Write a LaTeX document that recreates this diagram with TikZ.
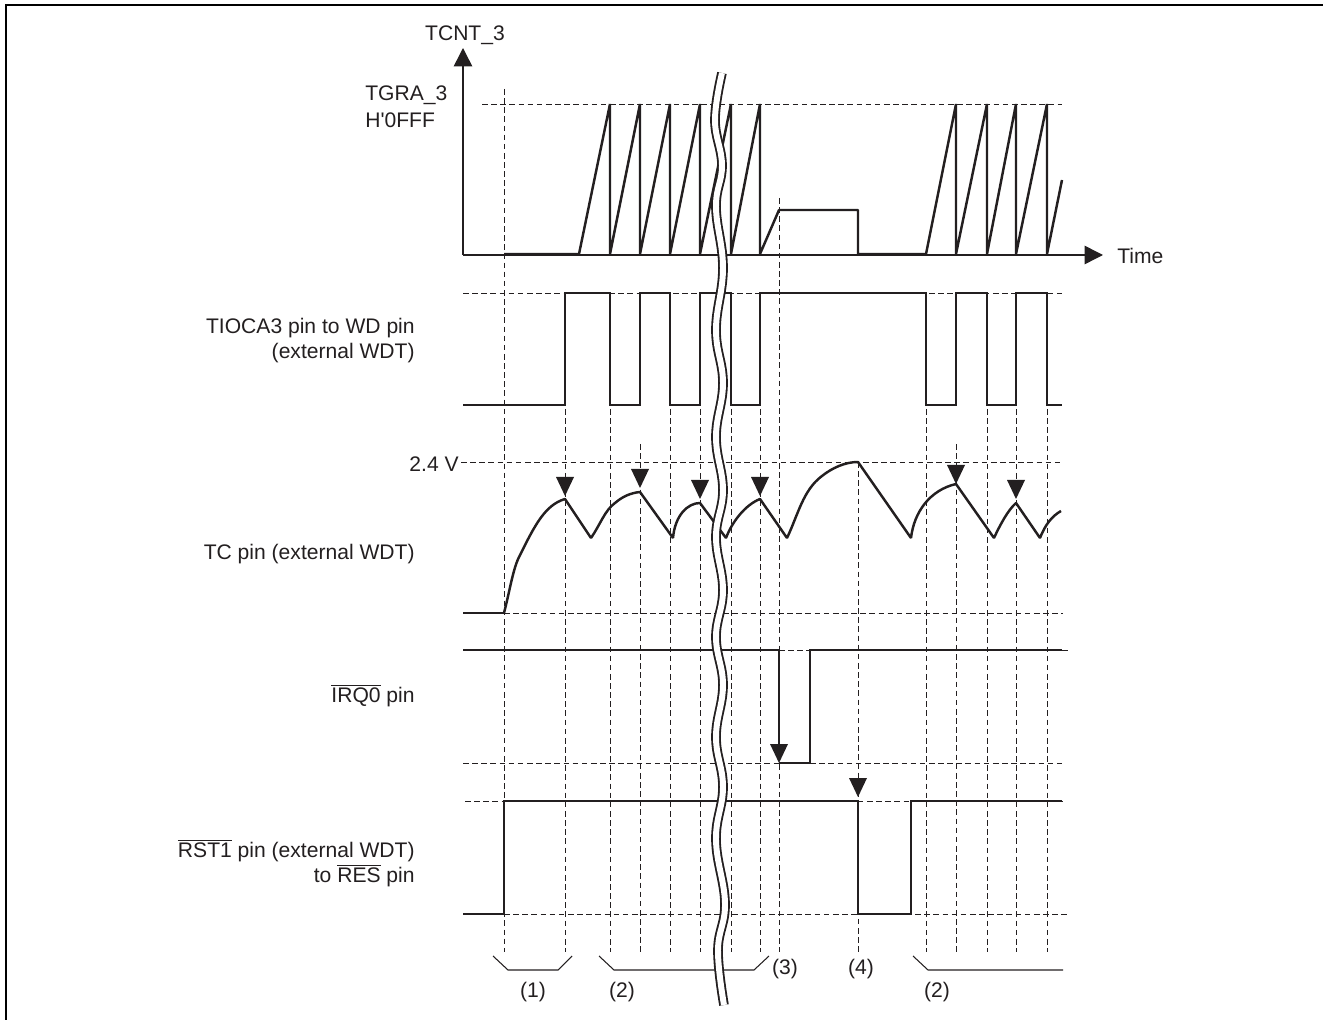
\documentclass[tikz,border=0pt]{standalone}
\usepackage{fontspec}
\newfontfamily\labelfont{Liberation Sans}
\usetikzlibrary{arrows.meta}
\definecolor{ink}{HTML}{231F20}
\tikzset{
    guide/.style={ink,line width=0.45pt,dash pattern=on 3.2pt off 2pt},
    signal/.style={ink,line width=1.4pt,line join=miter},
    ramp/.style={ink,line width=1.4pt,line join=bevel},
    axis/.style={ink,line width=0.85pt,-{Triangle[width=10.5pt,length=10.5pt]}},
    brace/.style={ink,line width=0.6pt},
    label/.style={inner sep=0pt,font=\labelfont\fontsize{12}{14.2}\selectfont,text=ink},
    leftlabel/.style={label,anchor=east,align=right}
}
\newcommand{\downmark}[2]{\fill[ink] (#1-9,#2-19) -- (#1+9,#2-19) -- (#1,#2) -- cycle;}
\begin{document}
\begin{tikzpicture}[x=0.02cm,y=-0.02cm]
            \useasboundingbox (0,0) rectangle (1323,1020);
            \draw[black,line width=1.2pt] (6,1020) --(6,5) --(1323,5);
            % horizontal guides
            \draw[guide] (482,104) --(1062,104);
            \draw[guide] (463,293) --(1064,293);
            \draw[guide] (461,462) --(1063,462);
            \draw[guide] (504,613) --(1063,613);
            \draw[guide] (779,650) --(1070,650);
            \draw[guide] (463,763) --(1063,763);
            \draw[guide] (465,801) --(1063,801);
            \draw[guide] (504,914) --(1068,914);
            % vertical guides
            \draw[guide] (504,89) --(504,952);
            \draw[guide] (779,198) --(779,952);
            \draw[guide] (858,462) --(858,952);
            \foreach \tx in {565,610,670,700,731,760,926,987,1016,1047}
                \draw[guide] (\tx,409) --(\tx,952);
            \draw[guide] (640,444) --(640,952);
            \draw[guide] (956,444) --(956,952);
            % axes
            \draw[axis] (463,255) --(463,48);
            \draw[axis] (463,255) --(1103,255);
            \node[label] (tcnt) at (465,35) {TCNT\_3};
            \node[label,anchor=west] (tgra) at (365,95) {TGRA\_3};
            \node[label,anchor=west] (hfff) at (365,120) {H'0FFF};
            \node[label,anchor=west] (time) at (1117,256) {Time};
            % counter
            \draw[ramp] (504,254) --(579,254) --(610,104) --(610,254) --(640,104) --(640,254)
                --(670,104) --(670,254) --(700,104) --(700,254) --(731,104) --(731,254)
                --(760,104) --(760,254) --(779,210) --(858,210) --(858,254) --(926,254)
                --(956,104) --(956,254) --(987,104) --(987,254) --(1016,104) --(1016,254)
                --(1047,104) --(1047,254) --(1062,180);
            % TIOCA3
            \draw[signal] (463,405) --(565,405) --(565,293) --(610,293) --(610,405) --(640,405)
                --(640,293) --(670,293) --(670,405) --(700,405) --(700,293) --(731,293)
                --(731,405) --(760,405) --(760,293) --(926,293) --(926,405) --(956,405)
                --(956,293) --(987,293) --(987,405) --(1016,405) --(1016,293) --(1047,293)
                --(1047,405) --(1062,405);
            \node[leftlabel] (tioca) at (415,341) {TIOCA3 pin to WD pin\\(external WDT)};
            % TC
            \draw[signal] (463,613) --(504,613);
            \draw[ramp] (504,613) .. controls (510,590) and (513,568) .. (520,555)
                .. controls (535,525) and (545,505) .. (565,499) --(591,538)
                .. controls (600,525) and (605,510) .. (615,503) .. controls (622,497) and (630,493) .. (640,492)
                --(673,538) .. controls (675,515) and (688,503) .. (700,503) --(726,538)
                .. controls (732,522) and (745,505) .. (760,499) --(787,538)
                .. controls (798,515) and (803,490) .. (822,476) .. controls (832,468) and (845,462) .. (858,462)
                --(911,538) .. controls (914,512) and (930,490) .. (956,484) --(994,538)
                .. controls (1000,525) and (1008,510) .. (1016,503) --(1040,538)
                .. controls (1045,525) and (1052,516) .. (1061,511);
            \node[leftlabel] (volt) at (459,464) {2.4 V};
            \node[leftlabel] (tc) at (415,554) {TC pin (external WDT)};
            \downmark{565}{496}
            \downmark{640}{488}
            \downmark{700}{499}
            \downmark{760}{496}
            \downmark{956}{484}
            \downmark{1016}{499}
            % IRQ0
            \draw[signal] (463,650) --(779,650) --(779,750);
            \draw[signal] (779,763) --(810,763) --(810,650) --(1062,650);
            \downmark{779}{763}
            \node[leftlabel] (irq) at (415,696) {$\overline{\mbox{IRQ0}}$ pin};
            % RST1
            \draw[signal] (463,914) --(504,914) --(504,801) --(858,801) --(858,914) --(911,914)
                --(911,801) --(1062,801);
            \downmark{858}{797}
            \node[leftlabel] (rst) at (415,863) {$\overline{\mbox{RST1}}$ pin (external WDT)\\to $\overline{\mbox{RES}}$ pin};
            % periods
            \draw[brace] (493,956) --(508,970) --(558,970) --(572,956);
            \draw[brace] (599,956) --(614,970) --(754,970) --(769,956);
            \draw[brace] (913,956) --(928,970) --(1063,970);
            \node[label] (one) at (533,992) {(1)};
            \node[label] (two) at (622,992) {(2)};
            \node[label] (three) at (785,969) {(3)};
            \node[label] (four) at (861,969) {(4)};
            \node[label] (twob) at (937,992) {(2)};
            % break
            \draw[ink,line width=1.05pt,double=white,double distance=3.4pt] plot[smooth,tension=0.7] coordinates {
                (722,73) (715,120) (722,165) (716,207) (723,268) (716,330) (723,383) (716,437)
                (723,490) (716,537) (723,590) (716,637) (723,685) (716,737) (723,787) (716,840)
                (725,903) (718,950) (724,1005)};
        \end{tikzpicture}
\end{document}
